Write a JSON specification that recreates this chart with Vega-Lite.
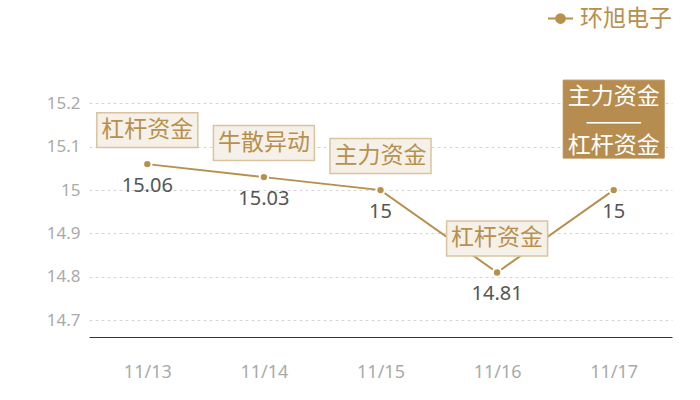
{
  "$schema": "https://vega.github.io/schema/vega-lite/v6.json",
  "width": 583,
  "height": 237,
  "autosize": {"type": "none"},
  "padding": {"left": 89, "top": 100, "right": 28, "bottom": 63},
  "background": "#ffffff",
  "config": {
    "view": {"stroke": null},
    "font": "Noto Sans CJK SC",
    "axis": {"labelFont": "Noto Sans", "labelColor": "#aaaaaa", "labelFontSize": 17, "ticks": false, "title": null}
  },
  "data": {
    "values": [
      {"date": "11/13", "price": 15.06, "stock": "环旭电子", "label": "杠杆资金"},
      {"date": "11/14", "price": 15.03, "stock": "环旭电子", "label": "牛散异动"},
      {"date": "11/15", "price": 15.0, "stock": "环旭电子", "label": "主力资金"},
      {"date": "11/16", "price": 14.81, "stock": "环旭电子", "label": "杠杆资金"},
      {"date": "11/17", "price": 15.0, "stock": "环旭电子", "label": "主力资金\n———\n杠杆资金"}
    ]
  },
  "encoding": {
    "x": {
      "field": "date",
      "type": "ordinal",
      "scale": {"type": "point", "padding": 0.5},
      "axis": {"labelAngle": 0, "labelPadding": 26, "labelFontSize": 18, "domainColor": "#333333", "domainWidth": 1.2, "grid": false}
    },
    "y": {
      "field": "price",
      "type": "quantitative",
      "scale": {"domain": [14.661, 15.208], "nice": false, "zero": false},
      "axis": {
        "values": [14.7, 14.8, 14.9, 15.0, 15.1, 15.2],
        "format": "~g",
        "domain": false,
        "grid": true,
        "gridColor": "#d6d6d6",
        "gridDash": [3, 3],
        "labelPadding": 9
      }
    }
  },
  "layer": [
    {
      "mark": {"type": "line", "strokeWidth": 2},
      "encoding": {
        "color": {
          "field": "stock",
          "type": "nominal",
          "scale": {"range": ["#b8904e"]},
          "legend": {
            "orient": "none",
            "legendX": 458,
            "legendY": -95,
            "title": null,
            "padding": 0,
            "symbolType": "M-1,0H-0.35M0.35,0H1M-0.35,0A0.35,0.35,0,1,1,0.35,0A0.35,0.35,0,1,1,-0.35,0Z",
            "symbolSize": 625,
            "symbolStrokeWidth": 2,
            "symbolFillColor": "#b8904e",
            "symbolStrokeColor": "#c9a877",
            "labelFont": "Noto Sans CJK SC",
            "labelFontSize": 23,
            "labelColor": "#b8904e",
            "labelOffset": 6
          }
        }
      }
    },
    {
      "mark": {"type": "point", "filled": true, "size": 70, "fill": "#b8904e", "stroke": "#ffffff", "strokeWidth": 2, "opacity": 1}
    },
    {
      "mark": {"type": "text", "font": "Noto Sans", "fontSize": 20, "color": "#555555", "baseline": "middle", "yOffset": 22},
      "encoding": {"text": {"field": "price", "type": "quantitative", "format": "~g"}}
    },
    {
      "transform": [{"filter": "datum.date !== '11/17'"}],
      "mark": {
        "type": "point",
        "shape": "M-1,-0.3465H1V0.3465H-1Z",
        "size": 10201,
        "filled": true,
        "fill": "#f5f0e8",
        "stroke": "#d9c49f",
        "strokeWidth": 1.5,
        "opacity": 1,
        "yOffset": -34
      }
    },
    {
      "transform": [{"filter": "datum.date !== '11/17'"}],
      "mark": {"type": "text", "fontSize": 23, "color": "#b8904e", "baseline": "middle", "yOffset": -34},
      "encoding": {"text": {"field": "label", "type": "nominal"}}
    },
    {
      "transform": [{"filter": "datum.date === '11/17'"}],
      "mark": {
        "type": "point",
        "shape": "M-1,-0.772H1V0.772H-1Z",
        "size": 10201,
        "filled": true,
        "fill": "#b68d4f",
        "stroke": "#b68d4f",
        "strokeWidth": 1,
        "opacity": 1,
        "yOffset": -71
      }
    },
    {
      "transform": [{"filter": "datum.date === '11/17'"}],
      "mark": {"type": "text", "fontSize": 23, "color": "#ffffff", "baseline": "middle", "lineBreak": "\n", "lineHeight": 24.5, "yOffset": -93},
      "encoding": {"text": {"field": "label", "type": "nominal"}}
    }
  ]
}
